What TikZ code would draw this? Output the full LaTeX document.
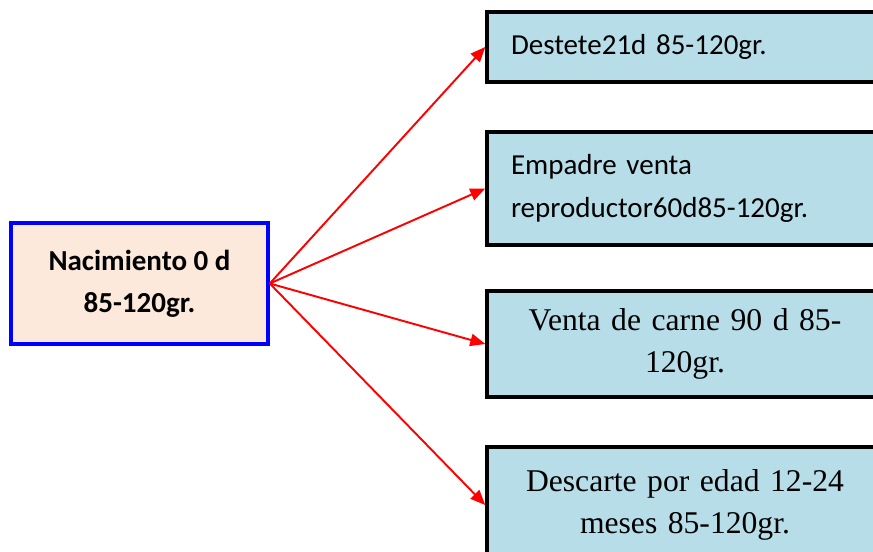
\documentclass[tikz,border=0pt]{standalone}
\usepackage{fontspec}
\usepackage{tikz}
\usetikzlibrary{arrows.meta,positioning}
\newfontfamily\calibrifont{Carlito}
\newfontfamily\romanfont{Liberation Serif}
\definecolor{peach}{RGB}{252,233,219}
\definecolor{skyfill}{RGB}{183,221,232}
\definecolor{edgeblue}{RGB}{0,0,255}
\definecolor{arrowred}{RGB}{255,0,0}

\begin{document}
\begin{tikzpicture}[
    start/.style={rectangle, draw=edgeblue, line width=2pt, fill=peach, minimum width=5.14cm, minimum height=2.42cm, align=center, font=\calibrifont\bfseries\fontsize{16.5}{24}\selectfont},
    stage/.style={rectangle, draw=black, line width=2pt, fill=skyfill, text width=6.96cm, inner xsep=0.48cm},
    stageleft/.style={stage, align=left, font=\calibrifont\fontsize{16.5}{24}\selectfont},
    stagemid/.style={stage, align=center, font=\romanfont\fontsize{18}{24}\selectfont},
    link/.style={-{Triangle[length=8.5pt, width=7pt]}, draw=arrowred, line width=1.1pt}
]
    \useasboundingbox (0,0) rectangle (17.46,11.02);

    % Birth box on the left
    \node[start] (birth) at (2.79, 5.35) {Nacimiento 0 d\\85-120gr.};

    % Destination boxes on the right
    \node[stageleft, minimum height=1.40cm] (wean) at (13.70, 10.08) {Destete21d 85-120gr.};
    \node[stageleft, minimum height=2.26cm] (breed) at (13.70, 7.25) {Empadre venta\\reproductor60d85-120gr.};
    \node[stagemid, minimum height=2.12cm] (meat) at (13.70, 4.14) {Venta de carne 90 d 85-\\120gr.};
    \node[stagemid, minimum height=2.32cm] (cull) at (13.70, 0.92) {Descarte por edad 12-24\\meses 85-120gr.};

    % Arrows fanning out from the birth box
    \draw[link] (birth.east) -- (wean.west);
    \draw[link] (birth.east) -- (breed.west);
    \draw[link] (birth.east) -- (meat.west);
    \draw[link] (birth.east) -- (cull.west);
\end{tikzpicture}
\end{document}
